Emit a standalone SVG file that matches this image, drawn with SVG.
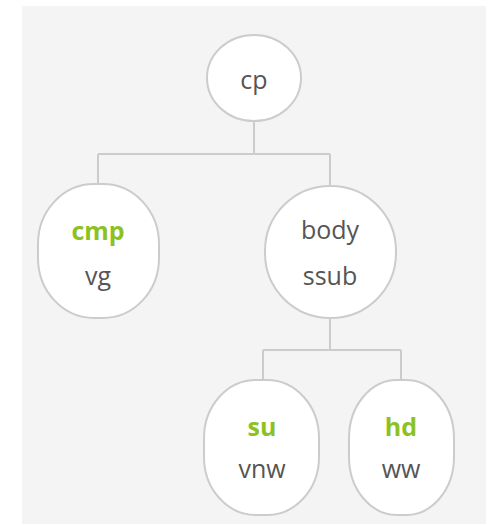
<svg xmlns="http://www.w3.org/2000/svg" width="493" height="525" viewBox="0 0 493 525">
  <style>
    .node { fill: #ffffff; stroke: #cccccc; stroke-width: 2; }
    .wire { fill: none; stroke: #cccccc; stroke-width: 2; }
    .lbl { font-family: "Open Sans", "Noto Sans", sans-serif; font-size: 25px; fill: #555555; text-anchor: middle; }
    .key { font-weight: bold; fill: #8cc21f; }
  </style>
  <rect x="0" y="0" width="493" height="525" fill="#ffffff"/>
  <rect x="22" y="6" width="464" height="518" fill="#f4f4f4"/>

  <g id="connectors">
    <path class="wire" d="M254 120 V154 M98 154 H330 M98 154 V184 M330 154 V186"/>
    <path class="wire" d="M330 318 V350 M263 350 H401 M263 350 V380 M401 350 V380"/>
  </g>

  <g id="node-cp">
    <ellipse class="node" cx="254" cy="78" rx="47" ry="43"/>
    <text class="lbl" x="254" y="89">cp</text>
  </g>

  <g id="node-cmp">
    <rect class="node" x="38" y="184" width="121" height="134" rx="56" ry="60"/>
    <text class="lbl key" x="98" y="240">cmp</text>
    <text class="lbl" x="98" y="285">vg</text>
  </g>

  <g id="node-body">
    <rect class="node" x="265" y="186" width="131" height="132" rx="65" ry="65"/>
    <text class="lbl" x="330" y="239">body</text>
    <text class="lbl" x="330" y="285">ssub</text>
  </g>

  <g id="node-su">
    <rect class="node" x="204" y="380" width="115" height="135" rx="52" ry="58"/>
    <text class="lbl key" x="262" y="436">su</text>
    <text class="lbl" x="262" y="478">vnw</text>
  </g>

  <g id="node-hd">
    <rect class="node" x="349" y="380" width="105" height="135" rx="48" ry="58"/>
    <text class="lbl key" x="401" y="436">hd</text>
    <text class="lbl" x="401" y="478">ww</text>
  </g>
</svg>
